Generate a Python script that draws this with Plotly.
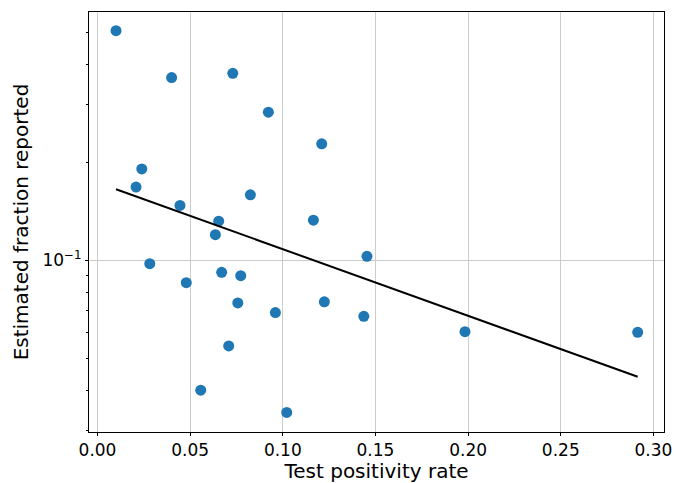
import plotly.graph_objects as go

# Test positivity rate (x) and estimated fraction reported (y)
positivity = [0.0100, 0.0400, 0.0730, 0.0922, 0.1210, 0.0239, 0.0208, 0.0825, 0.0445,
              0.0654, 0.1165, 0.0636, 0.1454, 0.0282, 0.0670, 0.0773, 0.0479, 0.0757,
              0.1224, 0.0960, 0.1437, 0.1983, 0.2915, 0.0708, 0.0557, 0.1021]
fraction_reported = [0.507, 0.364, 0.375, 0.285, 0.228, 0.191, 0.168, 0.159, 0.1475,
                     0.132, 0.133, 0.120, 0.103, 0.0978, 0.092, 0.0898, 0.0855, 0.0741,
                     0.0747, 0.0692, 0.0674, 0.0605, 0.0602, 0.0547, 0.0400, 0.0342]

# Fitted trend line endpoints
fit_x = [0.0100, 0.2915]
fit_y = [0.1654, 0.0440]

x_ticks = [0.00, 0.05, 0.10, 0.15, 0.20, 0.25, 0.30]
y_major = [0.1]
y_major_text = ["10<sup>−1</sup>"]
y_minor = [0.03, 0.04, 0.05, 0.06, 0.07, 0.08, 0.09, 0.2, 0.3, 0.4, 0.5]

FONT = "DejaVu Sans"

fig = go.Figure()
fig.add_trace(go.Scatter(
    x=positivity, y=fraction_reported, mode="markers",
    marker=dict(color="#1f77b4", size=11, line=dict(width=0)),
    showlegend=False, hoverinfo="x+y"))
fig.add_trace(go.Scatter(
    x=fit_x, y=fit_y, mode="lines",
    line=dict(color="black", width=2),
    showlegend=False))

fig.update_layout(
    width=676, height=483,
    margin=dict(l=89, r=12, t=12, b=51),
    paper_bgcolor="white", plot_bgcolor="white",
    font=dict(family=FONT, color="black"),
)
fig.update_xaxes(
    automargin=False,
    range=[-0.00459, 0.3057],
    tickvals=x_ticks, ticktext=[f"{v:.2f}" for v in x_ticks],
    ticks="outside", ticklen=3, tickwidth=1, tickcolor="black",
    tickfont=dict(size=17, family=FONT),
    showgrid=True, gridcolor="#cccccc", gridwidth=1,
    showline=True, linecolor="black", linewidth=1, mirror=True,
    zeroline=False,
    title=dict(text="Test positivity rate", font=dict(size=20, family=FONT), standoff=6),
)
fig.update_yaxes(
    automargin=False,
    type="log",
    range=[-1.5261, -0.2377],
    tickvals=y_major, ticktext=y_major_text,
    ticks="outside", ticklen=3, tickwidth=1, tickcolor="black",
    tickfont=dict(size=17, family=FONT),
    showgrid=True, gridcolor="#cccccc", gridwidth=1,
    minor=dict(tickvals=y_minor, ticks="outside", ticklen=2, tickwidth=1,
               tickcolor="black", showgrid=False),
    showline=True, linecolor="black", linewidth=1, mirror=True,
    zeroline=False,
    title=dict(text="Estimated fraction reported", font=dict(size=20, family=FONT), standoff=8),
)

fig.write_html("out.html", config={"displayModeBar": False},
               post_script="document.body.style.margin='0';")
